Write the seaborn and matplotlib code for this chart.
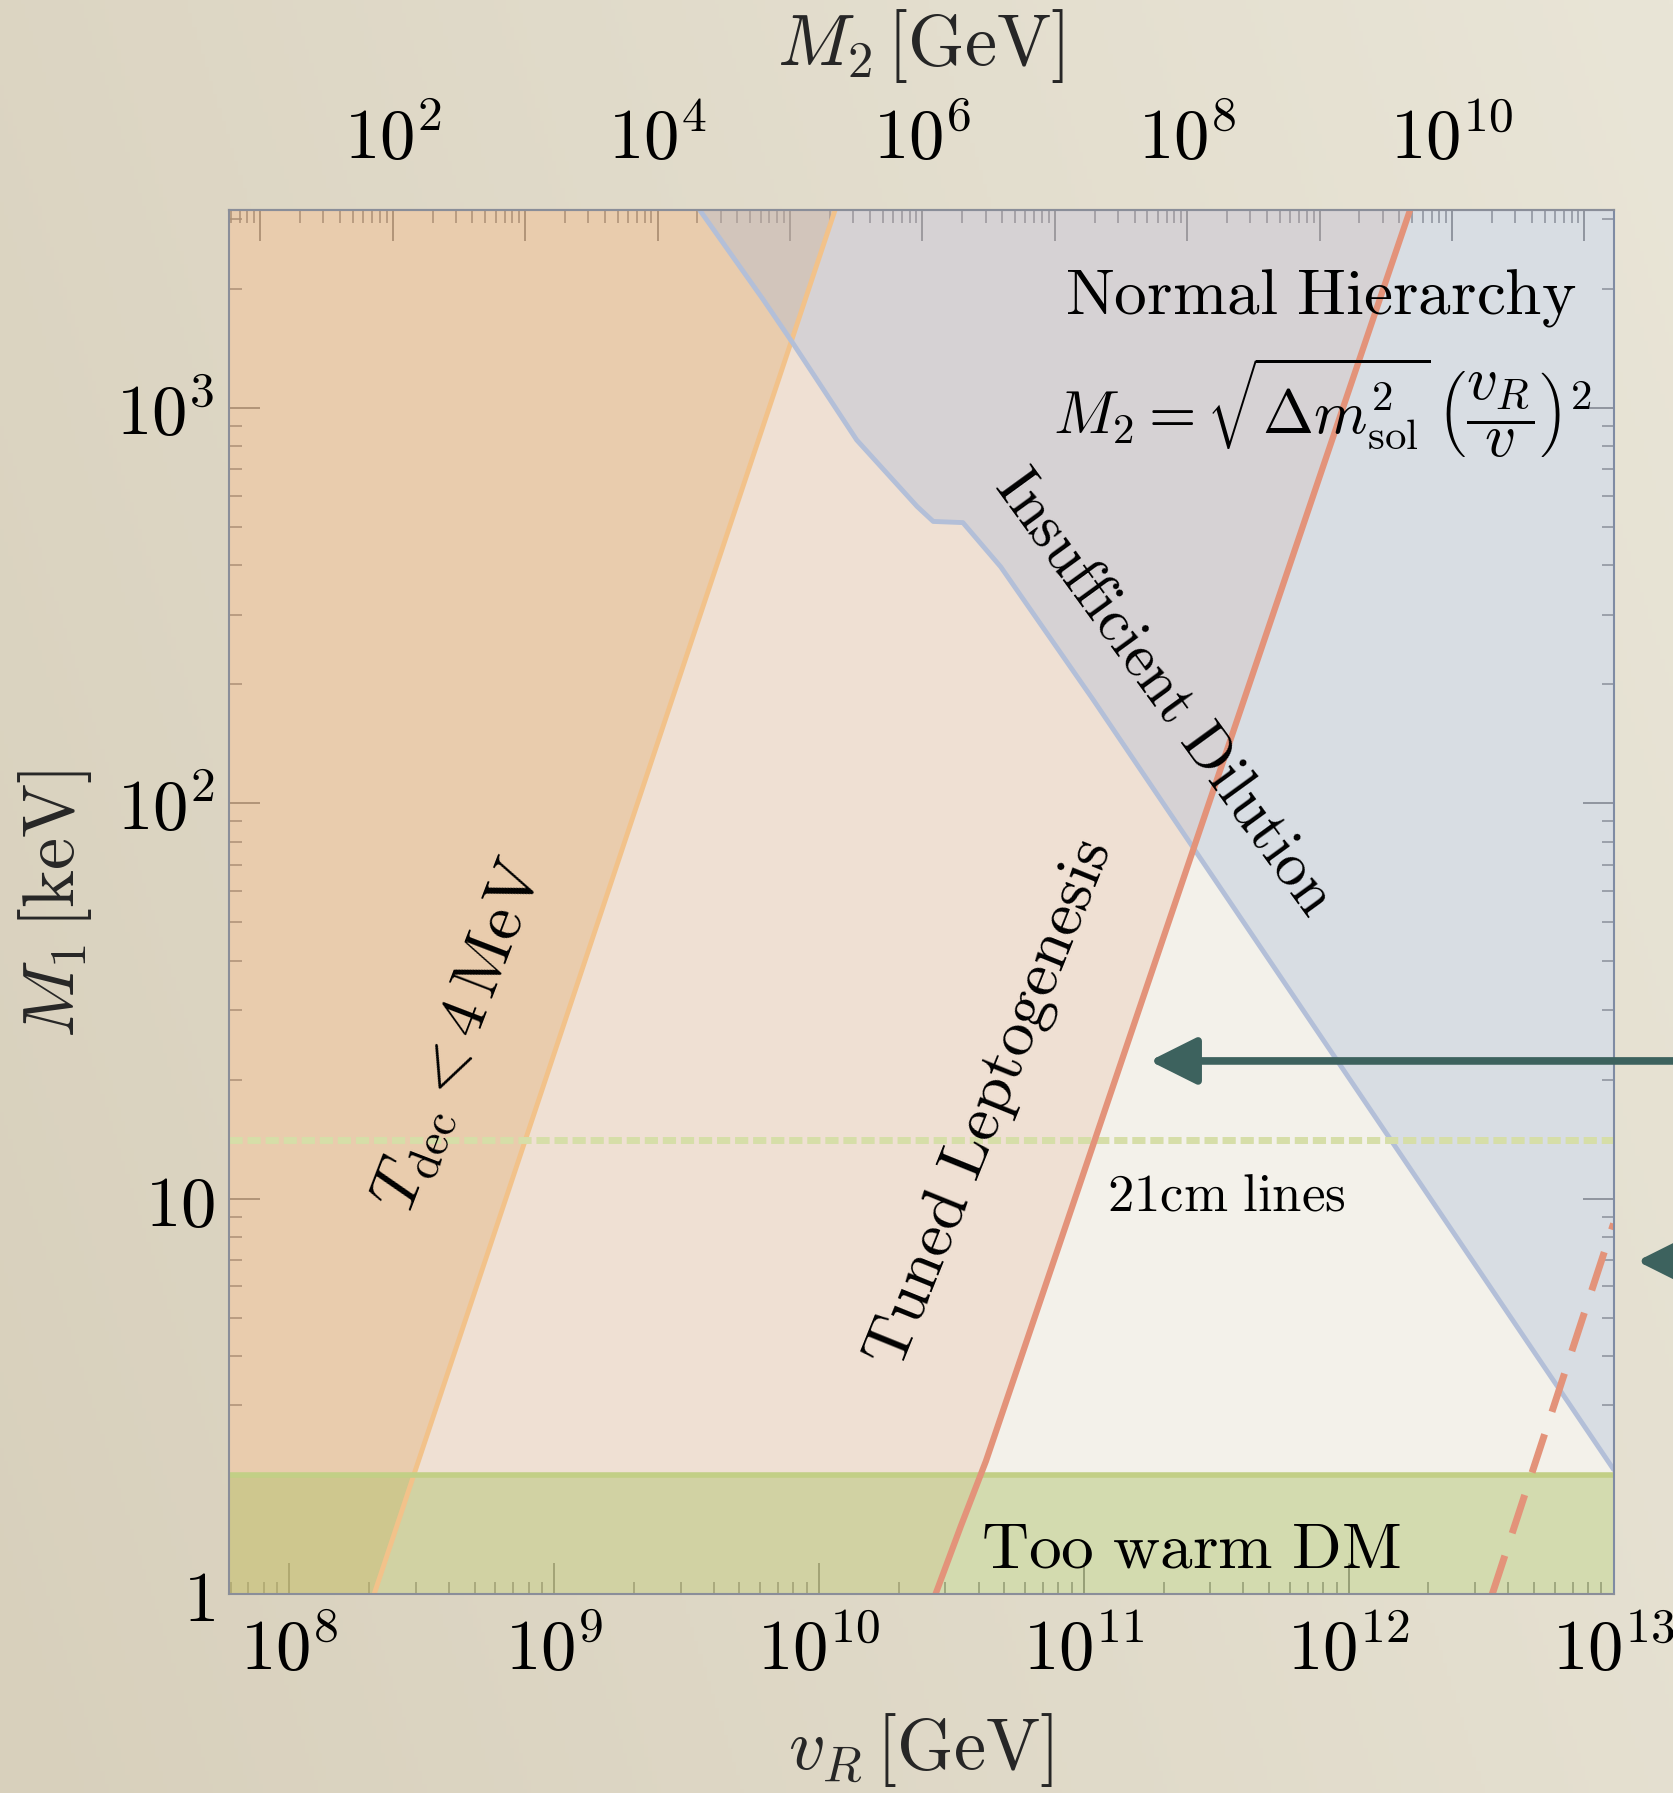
import numpy as np
import matplotlib
matplotlib.use("Agg")
import matplotlib.pyplot as plt
import seaborn as sns
from matplotlib.ticker import FixedLocator, FuncFormatter, LogLocator, NullFormatter

sns.set_theme(style="white")
plt.rcParams["mathtext.fontset"] = "cm"
plt.rcParams["font.family"] = ["DejaVu Serif"]

# ---------------- data ----------------
vR_lim = [5.9e7, 1.0e13]          # GeV
M1_lim = [1.0, 3162.0]            # keV

# T_dec < 4 MeV boundary
tdec_vR = [2.09e8, 1.148e10]
tdec_M1 = [1.0, 3162.0]

# Tuned leptogenesis boundary
lep_vR = [2.754e10, 3.428e10, 4.266e10, 1.702e12]
lep_M1 = [1.0, 1.483, 2.168, 3162.0]

# Insufficient dilution boundary
dil_vR = [3.548e9, 6.138e9, 7.943e9, 1.387e10, 2.344e10, 2.698e10, 3.491e10, 4.853e10, 1.084e11, 1.0e13]
dil_M1 = [3162.0, 1884.0, 1462.0, 829.8, 563.6, 516.4, 512.9, 396.3, 182.8, 2.065]

warm_M1 = 2.0        # too warm DM below this
line21_M1 = 14.1     # 21cm lines

dash_vR = [3.483e12, 1.0e13]
dash_M1 = [1.0, 8.65]

arrow_M1 = [22.3, 6.95]
arrow_tip_vR = 1.77e11

M2_exponents = list(range(1, 12))
M2_log_offset = -14.78   # log10 M2 = 2 log10 vR + offset

xticks = [1e8, 1e9, 1e10, 1e11, 1e12, 1e13]
yticks = [1, 10, 100, 1000]
ytick_labels = [r"$1$", r"$10$", r"$10^2$", r"$10^3$"]

# ---------------- figure ----------------
fig = plt.figure(figsize=(16.73, 17.93), dpi=100)

# background paper gradient
bg = fig.add_axes([0, 0, 1, 1], zorder=-5)
gx = np.linspace(0, 1, 400)[None, :]
gy = np.linspace(0, 1, 400)[:, None]
c0 = np.array([216, 208, 188]) / 255.0
c1 = np.array([233, 229, 215]) / 255.0
t = np.clip(0.75 * gx + 0.25 * gy, 0, 1)[..., None]
img = c0 * (1 - t) + c1 * t
bg.imshow(img, aspect="auto", extent=[0, 1, 0, 1], origin="lower")
bg.axis("off")

ax = fig.add_axes([0.1367, 0.1110, 0.8278, 0.7717], zorder=1)
ax.set_facecolor("#f3f1ea")
ax.set_xscale("log")
ax.set_yscale("log")
ax.set_xlim(vR_lim)
ax.set_ylim(M1_lim)

y_fill = np.logspace(0, np.log10(M1_lim[1]), 400)
# leptogenesis (pink) region: left of red line
lep_x = 10 ** np.interp(np.log10(y_fill), np.log10(lep_M1), np.log10(lep_vR))
ax.fill_betweenx(y_fill, vR_lim[0], lep_x, color="#e5a582", alpha=0.22, lw=0, zorder=1)
# T_dec region (orange)
tdec_x = 10 ** np.interp(np.log10(y_fill), np.log10(tdec_M1), np.log10(tdec_vR))
ax.fill_betweenx(y_fill, vR_lim[0], tdec_x, color="#e0a868", alpha=0.35, lw=0, zorder=2)
# insufficient dilution (blue)
ax.fill_between(dil_vR, dil_M1, M1_lim[1], color="#a8b8d6", alpha=0.35, lw=0, zorder=3)
# too warm DM (green)
ax.fill_between(vR_lim, M1_lim[0], warm_M1, color="#aec269", alpha=0.45, lw=0, zorder=4)

sns.lineplot(x=tdec_vR, y=tdec_M1, ax=ax, color="#f2c28a", lw=3.5, sort=False, estimator=None, zorder=5)
sns.lineplot(x=dil_vR, y=dil_M1, ax=ax, color="#b3bfd8", lw=3.5, sort=False, estimator=None, zorder=5)
sns.lineplot(x=lep_vR, y=lep_M1, ax=ax, color="#e3937a", lw=4.5, sort=False, estimator=None, zorder=6)
ax.axhline(warm_M1, color="#c2cf86", lw=4, zorder=5)
ax.axhline(line21_M1, color="#d6dea8", lw=5, dashes=(1.9, 0.7), zorder=5)
sns.lineplot(x=dash_vR, y=dash_M1, ax=ax, color="#e3937a", lw=5, sort=False, estimator=None, zorder=6)
ax.lines[-1].set_dashes((5.8, 3.4))

# arrows
ap = dict(arrowstyle="-|>", color="#3d625e", lw=5.5, mutation_scale=72, shrinkA=0, shrinkB=0)
ax.annotate("", xy=(arrow_tip_vR, arrow_M1[0]), xycoords="data",
            xytext=(1.05, arrow_M1[0]), textcoords=("figure fraction", "data"),
            arrowprops=ap, annotation_clip=False, zorder=10)
ax.annotate("", xy=(0.9785, arrow_M1[1]), xycoords=("figure fraction", "data"),
            xytext=(1.05, arrow_M1[1]), textcoords=("figure fraction", "data"),
            arrowprops=ap, annotation_clip=False, zorder=10)

# ticks and spines
for s in ax.spines.values():
    s.set_color("#8a8e99")
    s.set_linewidth(1.5)
    s.set_zorder(8)
ax.spines["right"].set_color("#7f8ba3")

ax.xaxis.set_major_locator(FixedLocator(xticks))
ax.xaxis.set_major_formatter(FuncFormatter(lambda v, p: r"$10^{%d}$" % round(np.log10(v))))
ax.xaxis.set_minor_locator(LogLocator(base=10, subs=np.arange(2, 10), numticks=100))
ax.xaxis.set_minor_formatter(NullFormatter())
ax.yaxis.set_major_locator(FixedLocator(yticks))
ax.yaxis.set_major_formatter(FuncFormatter(lambda v, p: ytick_labels[yticks.index(round(v))] if round(v) in yticks else ""))
ax.yaxis.set_minor_locator(LogLocator(base=10, subs=np.arange(2, 10), numticks=100))
ax.yaxis.set_minor_formatter(NullFormatter())

ax.tick_params(axis="x", which="both", direction="in", bottom=True, top=False, colors="#7a7a7a",
               labelcolor="black", labelsize=51, pad=16)
ax.tick_params(axis="y", which="both", direction="in", left=True, right=True, colors="#7a7a7a",
               labelcolor="black", labelsize=51, pad=10)
ax.tick_params(which="major", length=22, width=1.3)
ax.tick_params(which="minor", length=9, width=1.1)

fwd = lambda v: 10 ** M2_log_offset * np.asarray(v, dtype=float) ** 2
inv = lambda m: np.sqrt(np.abs(np.asarray(m, dtype=float)) / 10 ** M2_log_offset)
sec = ax.secondary_xaxis("top", functions=(fwd, inv))
sec.xaxis.set_major_locator(FixedLocator([10.0 ** k for k in M2_exponents]))
sec.xaxis.set_major_formatter(FuncFormatter(
    lambda v, p: (r"$10^{%d}$" % round(np.log10(v))) if round(np.log10(v)) % 2 == 0 else ""))
sec.xaxis.set_minor_locator(LogLocator(base=10, subs=np.arange(2, 10), numticks=100))
sec.xaxis.set_minor_formatter(NullFormatter())
sec.tick_params(axis="x", which="both", direction="in", colors="#7a7a7a", labelcolor="black",
                labelsize=51, pad=26)
sec.tick_params(which="major", length=22, width=1.3)
sec.tick_params(which="minor", length=9, width=1.1)
sec.spines["top"].set_color("#8a8e99")
sec.spines["top"].set_linewidth(1.5)

# axis labels
fig.text(0.550, 0.0242, r"$v_R\,[\mathrm{GeV}]$", ha="center", va="center", fontsize=52)
fig.text(0.550, 0.9745, r"$M_2\,[\mathrm{GeV}]$", ha="center", va="center", fontsize=52)
fig.text(0.0328, 0.496, r"$M_1\,[\mathrm{keV}]$", ha="center", va="center", fontsize=52, rotation=90)

# annotations
tk = dict(transform=ax.transAxes, color="black", zorder=9)
ax.text(0.973, 0.937, r"$\mathrm{Normal\ Hierarchy}$", ha="right", va="center", fontsize=47, **tk)
ax.text(0.984, 0.857, r"$M_2=\sqrt{\Delta m^2_{\mathrm{sol}}}\,\left(\dfrac{v_R}{v}\right)^2$",
        ha="right", va="center", fontsize=44, **tk)
ax.text(0.6765, 0.652, r"$\mathrm{Insufficient\ Dilution}$", ha="center", va="center",
        fontsize=44, rotation=-54, rotation_mode="anchor", **tk)
ax.text(0.5495, 0.3545, r"$\mathrm{Tuned\ Leptogenesis}$", ha="center", va="center",
        fontsize=47, rotation=68, rotation_mode="anchor", **tk)
ax.text(0.166, 0.404, r"$T_{\mathrm{dec}}<4\,\mathrm{MeV}$", ha="center", va="center",
        fontsize=48, rotation=69, rotation_mode="anchor", **tk)
ax.text(0.634, 0.2876, r"$\mathrm{21cm\ lines}$", ha="left", va="center", fontsize=38, **tk)
ax.text(0.5434, 0.032, r"$\mathrm{Too\ warm\ DM}$", ha="left", va="center", fontsize=47, **tk)

fig.savefig("out.png", dpi=100)
